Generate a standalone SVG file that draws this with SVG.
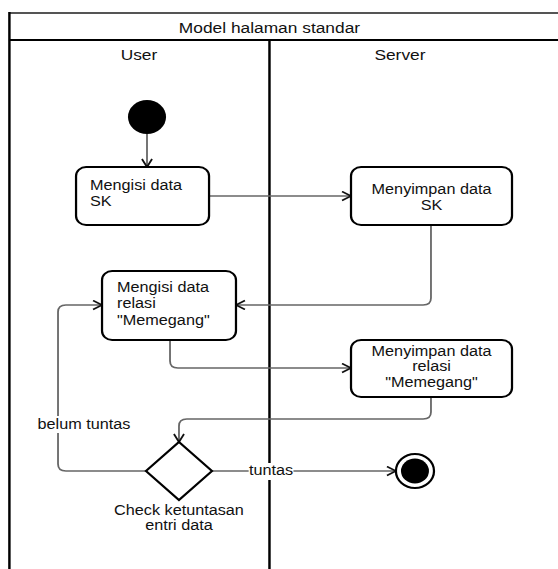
<svg xmlns="http://www.w3.org/2000/svg" width="558" height="569" viewBox="0 0 558 569">
<defs>
<style>
.t{font-family:"Liberation Sans",Arial,sans-serif;font-size:14.5px;fill:#111;}
.h{font-family:"Liberation Sans",Arial,sans-serif;font-size:15.5px;fill:#111;}
.node{fill:#fff;stroke:#000;stroke-width:2;}
.c{fill:none;stroke:#666;stroke-width:1.6;}
.lane{stroke:#000;stroke-width:2.2;fill:none;}
</style>
<marker id="arr" markerWidth="12" markerHeight="12" refX="9" refY="5" orient="auto" markerUnits="userSpaceOnUse">
<path d="M1,0.5 L9,5 L1,9.5" fill="none" stroke="#111" stroke-width="1.6"/>
</marker>
</defs>
<rect width="558" height="569" fill="#fff"/>
<g transform="scale(1.12,1)">
<g id="pool">
<line x1="8" y1="13" x2="500" y2="13" stroke="#555" stroke-width="2"/>
<line x1="8" y1="40" x2="500" y2="40" stroke="#000" stroke-width="2.2"/>
<line class="lane" x1="8.4" y1="12" x2="8.4" y2="569"/>
<line class="lane" x1="240.6" y1="40" x2="240.6" y2="569"/>
<text class="h" x="240.6" y="33" text-anchor="middle">Model halaman standar</text>
<text class="h" x="124.1" y="60" text-anchor="middle">User</text>
<text class="h" x="357.1" y="60" text-anchor="middle">Server</text>
</g>
<g id="connectors">
<path class="c" d="M131.25,134 V167" marker-end="url(#arr)"/>
<path class="c" d="M186.65,196 H313.4" marker-end="url(#arr)"/>
<path class="c" d="M384.8,225 V298 Q384.8,305 377.8,305 H210.7" marker-end="url(#arr)"/>
<path class="c" d="M151.8,340 V361 Q151.8,368 158.8,368 H313.4" marker-end="url(#arr)"/>
<path class="c" d="M384.8,397 V412 Q384.8,419 377.8,419 H166.8 Q159.8,419 159.8,426 V442" marker-end="url(#arr)"/>
<path class="c" d="M130.3,471 H58.8 Q51.8,471 51.8,464 V312 Q51.8,305 58.8,305 H91.1" marker-end="url(#arr)"/>
<path class="c" d="M189.3,471 H353.5" marker-end="url(#arr)"/>
<rect x="32" y="416" width="86" height="17" fill="#fff"/>
<text class="t" x="75" y="429" text-anchor="middle">belum tuntas</text>
<rect x="222" y="463" width="40" height="17" fill="#fff"/>
<text class="t" x="242" y="475.5" text-anchor="middle">tuntas</text>
</g>
<g id="start">
<circle cx="131.25" cy="117" r="17" fill="#000"/>
</g>
<g id="isiSK">
<rect class="node" x="67.9" y="167" width="118.75" height="58" rx="9"/>
<text class="t" x="80.4" y="190">Mengisi data</text>
<text class="t" x="80.4" y="206">SK</text>
</g>
<g id="simpanSK">
<rect class="node" x="313.4" y="167" width="143.75" height="58" rx="9"/>
<text class="t" x="385.3" y="194" text-anchor="middle">Menyimpan data</text>
<text class="t" x="385.3" y="210" text-anchor="middle">SK</text>
</g>
<g id="isiRelasi">
<rect class="node" x="91.1" y="271" width="119.6" height="69" rx="9"/>
<text class="t" x="104.5" y="292">Mengisi data</text>
<text class="t" x="104.5" y="308.5">relasi</text>
<text class="t" x="104.5" y="325">"Memegang"</text>
</g>
<g id="simpanRelasi">
<rect class="node" x="313.4" y="340" width="143.75" height="57" rx="9"/>
<text class="t" x="385.3" y="356" text-anchor="middle">Menyimpan data</text>
<text class="t" x="385.3" y="371.5" text-anchor="middle">relasi</text>
<text class="t" x="385.3" y="387" text-anchor="middle">"Memegang"</text>
</g>
<g id="check">
<polygon class="node" points="159.8,442 189.3,471 159.8,500 130.3,471"/>
<text class="t" x="159.8" y="515" text-anchor="middle">Check ketuntasan</text>
<text class="t" x="159.8" y="530.5" text-anchor="middle">entri data</text>
</g>
<g id="end">
<circle cx="370.5" cy="471" r="17" fill="#fff" stroke="#000" stroke-width="2"/>
<circle cx="370.5" cy="471" r="12.5" fill="#000"/>
</g>
</g>
</svg>
